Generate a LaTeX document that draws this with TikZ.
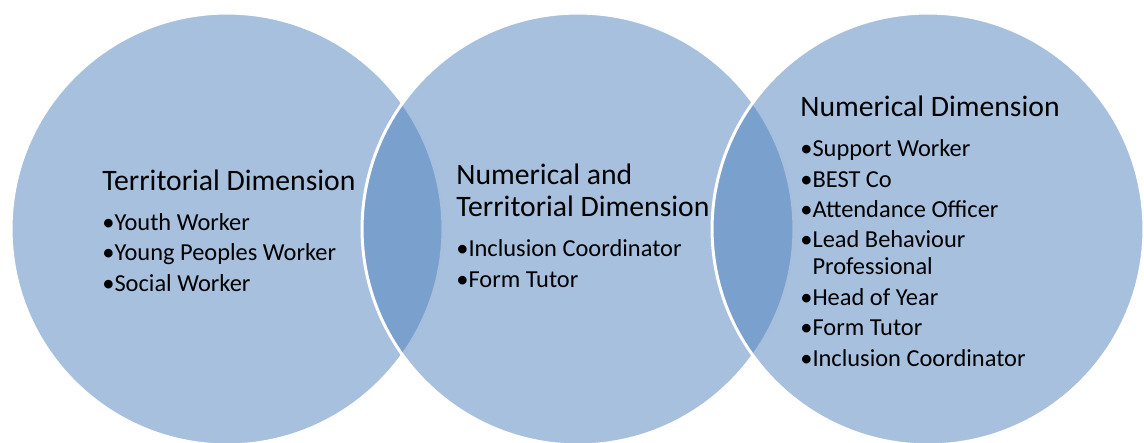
\documentclass[tikz,border=0pt]{standalone}
\usepackage{fontspec}
\setmainfont{Carlito}
\usepackage{xcolor}
\usepackage{tikz}
\definecolor{vennblue}{RGB}{79,129,189}
\newcommand{\listfont}{\fontsize{13.9pt}{17.3pt}\selectfont}
\newcommand{\headfont}{\fontsize{16.9pt}{18.1pt}\selectfont}

\begin{document}
\begin{tikzpicture}[
x=0.02cm,y=-0.02cm,
venn/.style={circle,draw=white,line width=1.7pt,fill=vennblue,
fill opacity=0.5,draw opacity=1,minimum size=8.64cm,inner sep=0pt},
txt/.style={align=left,anchor=base west,inner sep=0pt,font=\listfont}]
\useasboundingbox (0,0) rectangle (1144,443);
\node[venn] (terr) at (227,229) {};
\node[venn] (both) at (578,229) {};
\node[venn] (num) at (928,229) {};
% base anchor sits on the last line
\node[txt] (terrtext) at (102,291) {{\headfont Territorial Dimension}\\[5.4pt]
•Youth Worker\\•Young Peoples Worker\\•Social Worker};
\node[txt] (bothtext) at (456,287) {{\headfont Numerical and}\\[0.8pt]
{\headfont Territorial Dimension}\\[5.4pt]
•Inclusion Coordinator\\•Form Tutor};
\node[txt] (numtext) at (800,366) {{\headfont Numerical Dimension}\\[5.4pt]
•Support Worker\\•BEST Co\\•Attendance Officer\\•Lead Behaviour\\[-2pt]
\phantom{•}Professional\\•Head of Year\\•Form Tutor\\•Inclusion Coordinator};
\end{tikzpicture}
\end{document}
